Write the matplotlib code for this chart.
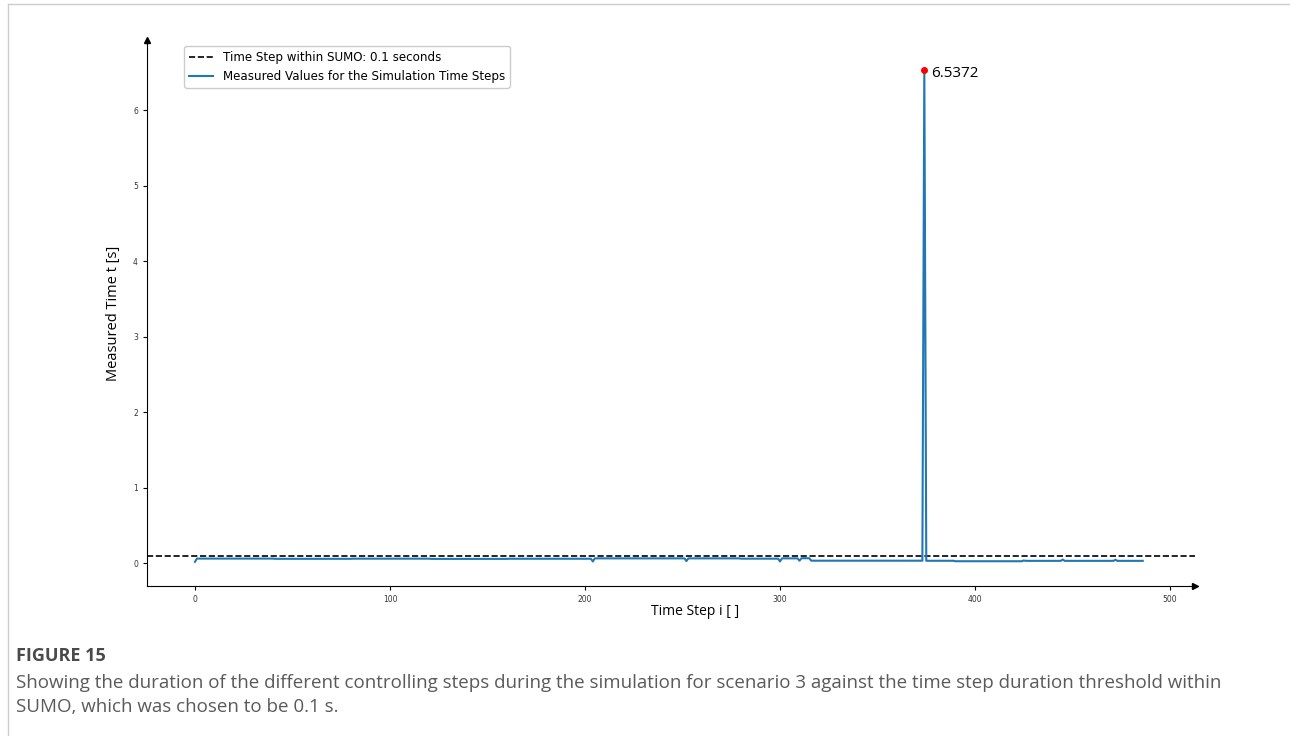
import numpy as np
import matplotlib.pyplot as plt

# values: (measured time [s], number of steps)
run_values = [0.020, 0.063, 0.060, 0.062, 0.059, 0.061, 0.025, 0.066, 0.030,
              0.066, 0.062, 0.025, 0.066, 0.035, 0.068, 0.035, 6.5372, 0.034,
              0.028, 0.038, 0.033, 0.050, 0.033, 0.048, 0.033]
run_lengths = [1, 40, 40, 40, 40, 43, 1, 47, 1,
               27, 20, 1, 9, 1, 5, 58, 1, 15,
               35, 1, 19, 1, 26, 1, 14]
threshold = 0.1
peak_label = '6.5372'

y = np.repeat(run_values, run_lengths)
x = np.arange(len(y))
ipk = int(np.argmax(y))

fig = plt.figure(figsize=(12.9, 7.36), dpi=100)

# journal frame lines (top and left)
fig.add_artist(plt.Line2D([8/1290, 1], [1-4/736, 1-4/736], color='#cccccc', lw=1))
fig.add_artist(plt.Line2D([8/1290, 8/1290], [0, 1-4/736], color='#cccccc', lw=1))

ax = fig.add_axes([147/1290, 1-586/736, (1195-147)/1290, (586-40)/736])
ax.axhline(threshold, color='k', ls='--', lw=1.2, label='Time Step within SUMO: 0.1 seconds')
ax.plot(x, y, color='#1f77b4', lw=1.5, label='Measured Values for the Simulation Time Steps')
ax.plot(x[ipk], y[ipk], 'o', color='red', ms=4)
ax.text(x[ipk] + 3.5, y[ipk] - 0.05, peak_label, fontsize=11, family='Open Sans', va='center')

ax.set_xlim(-24.6, 512.8)
ax.set_ylim(-0.30, 6.93)
ax.set_xticks([0, 100, 200, 300, 400, 500])
ax.set_yticks([0, 1, 2, 3, 4, 5, 6])
ax.tick_params(labelsize=5.5, length=3, labelcolor='#333333')
for s in ['top', 'right']:
    ax.spines[s].set_visible(False)
ax.plot(1, 0, '>k', ms=5, transform=ax.transAxes, clip_on=False)
ax.plot(0, 1, '^k', ms=5, transform=ax.transAxes, clip_on=False)

ax.set_xlabel('Time Step i [ ]', fontsize=10, family='Open Sans')
ax.xaxis.set_label_coords(0.523, -0.033)
ax.set_ylabel('Measured Time t [s]', fontsize=10.5, family='Open Sans')
ax.yaxis.set_label_coords(-0.025, 0.5)
ax.legend(loc='upper left', bbox_to_anchor=(0.03, 1.0), fontsize=8.6, framealpha=1)

cap_font = 'Open Sans'
fig.text(16/1290, 1-656/736, 'FIGURE 15', fontsize=13, family=cap_font,
         weight='bold', color='#4a4a4a', va='center')
fig.text(16/1290, 1-683/736,
         'Showing the duration of the different controlling steps during the simulation for scenario 3 against the time step duration threshold within',
         fontsize=13.5, family=cap_font, color='#5a5a5a', va='center')
fig.text(16/1290, 1-707/736, 'SUMO, which was chosen to be 0.1 s.',
         fontsize=13.5, family=cap_font, color='#5a5a5a', va='center')

fig.savefig('out.png', dpi=100)
